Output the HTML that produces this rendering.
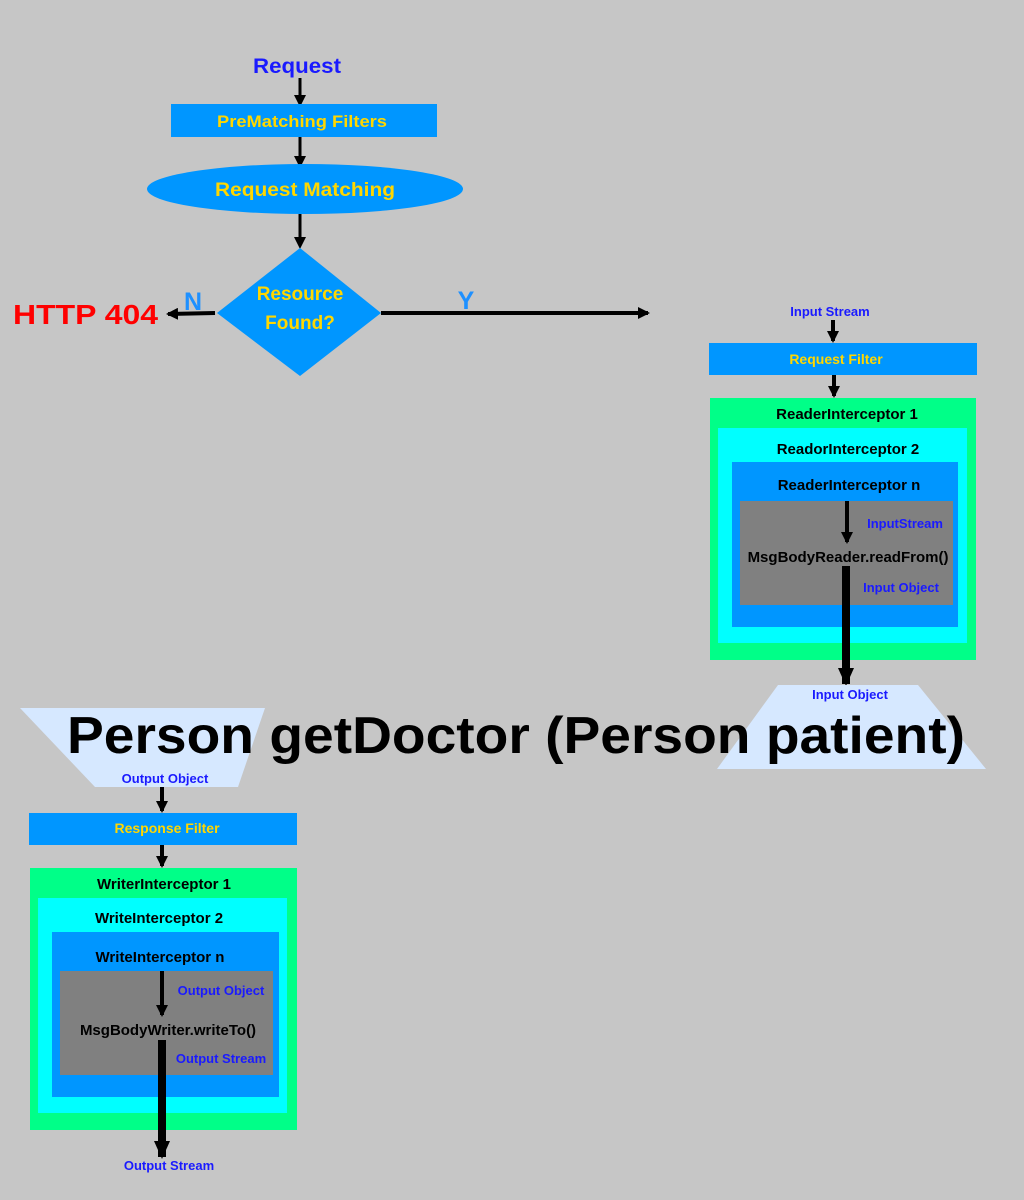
<!DOCTYPE html>
<html><head><meta charset="utf-8"><style>
html,body{margin:0;padding:0;background:#c6c6c6;}
svg{display:block;}
text{font-family:"Liberation Sans","DejaVu Sans",sans-serif;font-weight:bold;}
</style></head><body>
<svg width="1024" height="1200" viewBox="0 0 1024 1200" xmlns="http://www.w3.org/2000/svg">
<defs>
<marker id="ah" markerWidth="4" markerHeight="4" refX="3" refY="2" orient="auto" markerUnits="strokeWidth"><path d="M0,0 L4,2 L0,4 z" fill="#000"/></marker>
<marker id="ahs" markerWidth="3" markerHeight="3" refX="2.5" refY="1.5" orient="auto" markerUnits="strokeWidth"><path d="M0,0 L3,1.5 L0,3 z" fill="#000"/></marker>
<marker id="aht" markerWidth="18" markerHeight="16" refX="16" refY="8" orient="auto" markerUnits="userSpaceOnUse"><path d="M0,0 L18,8 L0,16 z" fill="#000"/></marker>
</defs>
<rect width="1024" height="1200" fill="#c6c6c6"/>

<text x="297" y="73" text-anchor="middle" font-size="21" fill="#1a1aff" textLength="88" lengthAdjust="spacingAndGlyphs">Request</text>
<line x1="300" y1="78" x2="300" y2="104" stroke="#000" stroke-width="3" marker-end="url(#ah)"/>
<rect x="171" y="104" width="266" height="33" fill="#0096ff"/>
<text x="302" y="127" text-anchor="middle" font-size="17" fill="#ffd700" textLength="170" lengthAdjust="spacingAndGlyphs">PreMatching Filters</text>
<line x1="300" y1="137" x2="300" y2="165" stroke="#000" stroke-width="3" marker-end="url(#ah)"/>
<ellipse cx="305" cy="189" rx="158" ry="25" fill="#0096ff"/>
<text x="305" y="196" text-anchor="middle" font-size="19" fill="#ffd700" textLength="180" lengthAdjust="spacingAndGlyphs">Request Matching</text>
<line x1="300" y1="214" x2="300" y2="246" stroke="#000" stroke-width="3" marker-end="url(#ah)"/>
<polygon points="300,248 381,313 300,376 217,313" fill="#0096ff"/>
<text x="300" y="300" text-anchor="middle" font-size="19" fill="#ffd700">Resource</text>
<text x="300" y="329" text-anchor="middle" font-size="19" fill="#ffd700">Found?</text>
<line x1="215" y1="313" x2="168" y2="314" stroke="#000" stroke-width="4" marker-end="url(#ahs)"/>
<text x="193" y="310" text-anchor="middle" font-size="25" fill="#1e90ff">N</text>
<text x="13" y="324" font-size="28" fill="#ff0000" textLength="145" lengthAdjust="spacingAndGlyphs">HTTP 404</text>
<line x1="381" y1="313" x2="648" y2="313" stroke="#000" stroke-width="4" marker-end="url(#ahs)"/>
<text x="466" y="309" text-anchor="middle" font-size="25" fill="#1e90ff">Y</text>

<text x="830" y="316" text-anchor="middle" font-size="13" fill="#1a1aff">Input Stream</text>
<line x1="833" y1="320" x2="833" y2="341" stroke="#000" stroke-width="4" marker-end="url(#ahs)"/>
<rect x="709" y="343" width="268" height="32" fill="#0096ff"/>
<text x="836" y="364" text-anchor="middle" font-size="14" fill="#ffd700">Request Filter</text>
<line x1="834" y1="375" x2="834" y2="396" stroke="#000" stroke-width="4" marker-end="url(#ahs)"/>
<rect x="710" y="398" width="266" height="262" fill="#00ff88"/>
<text x="847" y="419" text-anchor="middle" font-size="15" fill="#000">ReaderInterceptor 1</text>
<rect x="718" y="428" width="249" height="215" fill="#00ffff"/>
<text x="848" y="454" text-anchor="middle" font-size="15" fill="#000">ReadorInterceptor 2</text>
<rect x="732" y="462" width="226" height="165" fill="#0096ff"/>
<text x="849" y="490" text-anchor="middle" font-size="15" fill="#000">ReaderInterceptor n</text>
<rect x="740" y="501" width="213" height="104" fill="#808080"/>
<line x1="847" y1="501" x2="847" y2="542" stroke="#000" stroke-width="4" marker-end="url(#ahs)"/>
<text x="905" y="528" text-anchor="middle" font-size="13" fill="#1a1aff">InputStream</text>
<text x="848" y="562" text-anchor="middle" font-size="15" fill="#000">MsgBodyReader.readFrom()</text>
<text x="901" y="592" text-anchor="middle" font-size="13" fill="#1a1aff">Input Object</text>
<line x1="846" y1="566" x2="846" y2="684" stroke="#000" stroke-width="8" marker-end="url(#aht)"/>
<polygon points="778,685 918,685 986,769 717,769" fill="#d6e8ff"/>
<text x="850" y="699" text-anchor="middle" font-size="13" fill="#1a1aff">Input Object</text>

<polygon points="20,708 265,708 238,787 95,787" fill="#d6e8ff"/>
<text x="165" y="783" text-anchor="middle" font-size="13" fill="#1a1aff">Output Object</text>

<text x="67" y="753" font-size="52" fill="#000" textLength="898" lengthAdjust="spacingAndGlyphs">Person getDoctor (Person patient)</text>

<line x1="162" y1="787" x2="162" y2="811" stroke="#000" stroke-width="4" marker-end="url(#ahs)"/>
<rect x="29" y="813" width="268" height="32" fill="#0096ff"/>
<text x="167" y="833" text-anchor="middle" font-size="14" fill="#ffd700">Response Filter</text>
<line x1="162" y1="845" x2="162" y2="866" stroke="#000" stroke-width="4" marker-end="url(#ahs)"/>
<rect x="30" y="868" width="267" height="262" fill="#00ff88"/>
<text x="164" y="889" text-anchor="middle" font-size="15" fill="#000">WriterInterceptor 1</text>
<rect x="38" y="898" width="249" height="215" fill="#00ffff"/>
<text x="159" y="923" text-anchor="middle" font-size="15" fill="#000">WriteInterceptor 2</text>
<rect x="52" y="932" width="227" height="165" fill="#0096ff"/>
<text x="160" y="962" text-anchor="middle" font-size="15" fill="#000">WriteInterceptor n</text>
<rect x="60" y="971" width="213" height="104" fill="#808080"/>
<line x1="162" y1="971" x2="162" y2="1015" stroke="#000" stroke-width="4" marker-end="url(#ahs)"/>
<text x="221" y="995" text-anchor="middle" font-size="13" fill="#1a1aff">Output Object</text>
<text x="168" y="1035" text-anchor="middle" font-size="15" fill="#000">MsgBodyWriter.writeTo()</text>
<text x="221" y="1063" text-anchor="middle" font-size="13" fill="#1a1aff">Output Stream</text>
<line x1="162" y1="1040" x2="162" y2="1157" stroke="#000" stroke-width="8" marker-end="url(#aht)"/>
<text x="169" y="1170" text-anchor="middle" font-size="13" fill="#1a1aff">Output Stream</text>
</svg>
</body></html>
